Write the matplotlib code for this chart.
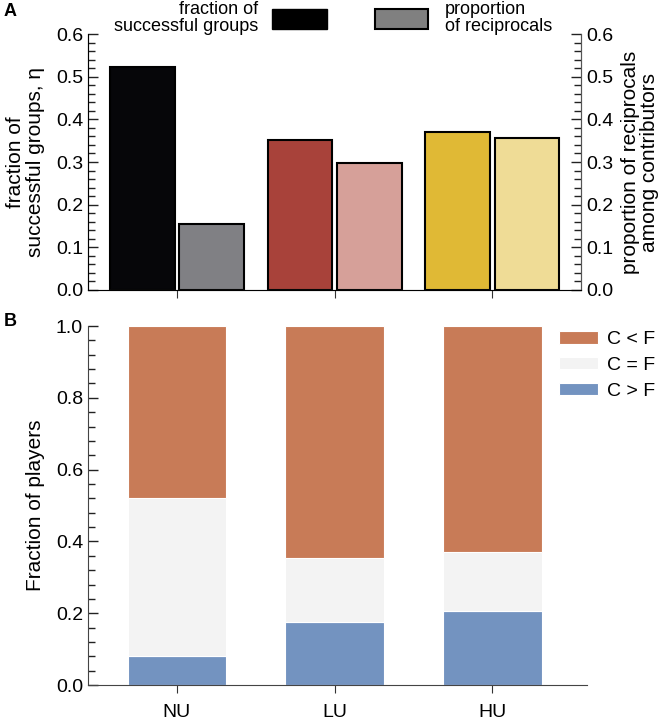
import numpy as np
import matplotlib
matplotlib.use("Agg")
import matplotlib.pyplot as plt
from matplotlib.patches import Patch
from matplotlib.ticker import MultipleLocator

plt.rcParams['font.family'] = ['Liberation Sans', 'DejaVu Sans']

# data
groups = ['NU', 'LU', 'HU']
success = [0.522, 0.352, 0.371]
reciprocals = [0.155, 0.297, 0.357]
success_colors = ['#060609', '#a8423a', '#e0b935']
recip_colors = ['#808084', '#d6a099', '#efdc96']

c_gt_f = [0.080, 0.176, 0.205]
c_eq_f = [0.441, 0.177, 0.166]
c_lt_f = [0.479, 0.647, 0.629]
stack_labels = ['C > F', 'C = F', 'C < F']
stack_colors = ['#7393c0', '#f3f3f3', '#c87b57']

fig = plt.figure(figsize=(6.66, 7.21), dpi=100)
x = np.arange(len(groups))
fs = 14      # tick labels
lfs = 15     # axis labels


def style_y(ax, major, minor):
    ax.yaxis.set_major_locator(MultipleLocator(major))
    ax.yaxis.set_minor_locator(MultipleLocator(minor))
    ax.tick_params(axis='y', which='both', direction='in', labelsize=fs,
                   colors='#222222', labelcolor='black', width=1.0)
    ax.tick_params(axis='y', which='major', length=7)
    ax.tick_params(axis='y', which='minor', length=5)


# ---- panel A
axA = fig.add_axes([0.1321, 0.5978, 0.7403, 0.355])
w = 0.41
axA.bar(x - 0.22, success, w, color=success_colors, edgecolor='black', linewidth=1.5)
axA.bar(x + 0.22, reciprocals, w, color=recip_colors, edgecolor='black', linewidth=1.5)
axA.set_xlim(-0.564, 2.562)
axA.set_ylim(0, 0.6)
axA.set_xticks(x)
axA.set_xticklabels([])
style_y(axA, 0.1, 0.02)
axA.tick_params(axis='x', direction='out', length=6, colors='#333333')
axA.spines['top'].set_visible(False)
for s in ['left', 'right']:
    axA.spines[s].set_color('#555555')
axA.spines['bottom'].set_color('#999999')
axA.set_ylabel('fraction of\nsuccessful groups, η', fontsize=lfs, labelpad=8, linespacing=1.05)

axA2 = axA.twinx()
axA2.set_ylim(0, 0.6)
style_y(axA2, 0.1, 0.02)
axA2.spines['top'].set_visible(False)
axA2.spines['right'].set_color('#555555')
axA2.set_ylabel('proportion of reciprocals\namong contributors', fontsize=lfs, labelpad=6, linespacing=0.95)

h1 = Patch(facecolor='black', edgecolor='black')
h2 = Patch(facecolor='#808080', edgecolor='black', linewidth=1.5)
leg1 = fig.legend([h1], ['fraction of\nsuccessful groups'], loc='upper right',
                  bbox_to_anchor=(0.4905, 0.998), frameon=False, markerfirst=False,
                  fontsize=13, handlelength=3.05, handleheight=1.28, handletextpad=0.76,
                  borderpad=0, borderaxespad=0)
for t in leg1.get_texts():
    t.set_ha('right')
    t.set_linespacing(1.0)
leg2 = fig.legend([h2], ['proportion\nof reciprocals'], loc='upper left',
                  bbox_to_anchor=(0.563, 0.998), frameon=False,
                  fontsize=13, handlelength=2.95, handleheight=1.28, handletextpad=0.94,
                  borderpad=0, borderaxespad=0)
for t in leg2.get_texts():
    t.set_linespacing(1.0)

fig.text(0.005, 0.984, 'A', fontsize=13, fontweight='bold', va='center')

# ---- panel B
axB = fig.add_axes([0.1321, 0.0499, 0.7493, 0.4979])
bw = 0.626
bottoms = np.zeros(len(groups))
handles = []
for vals, col, lab in zip([c_gt_f, c_eq_f, c_lt_f], stack_colors, stack_labels):
    b = axB.bar(x, vals, bw, bottom=bottoms, color=col, edgecolor='white', linewidth=0.8, label=lab)
    bottoms = bottoms + np.array(vals)
    handles.append(b)
axB.set_xlim(-0.564, 2.600)
axB.set_ylim(0, 1.0)
axB.set_xticks(x)
axB.set_xticklabels(groups, fontsize=fs)
style_y(axB, 0.2, 0.04)
axB.tick_params(axis='x', direction='out', length=6, colors='#333333', labelcolor='black', pad=8)
axB.spines['top'].set_visible(False)
axB.spines['right'].set_visible(False)
axB.spines['left'].set_color('#444444')
axB.spines['bottom'].set_color('#444444')
axB.set_ylabel('Fraction of players', fontsize=lfs, labelpad=8)

axB.legend(handles[::-1], stack_labels[::-1], loc='upper left',
           bbox_to_anchor=(0.839, 0.541), bbox_transform=fig.transFigure,
           frameon=False, fontsize=fs, handlelength=2.0, handleheight=0.62,
           handletextpad=0.5, labelspacing=0.45, borderpad=0, borderaxespad=0)

fig.text(0.005, 0.554, 'B', fontsize=13, fontweight='bold', va='center')

fig.savefig('out.png', dpi=100)
